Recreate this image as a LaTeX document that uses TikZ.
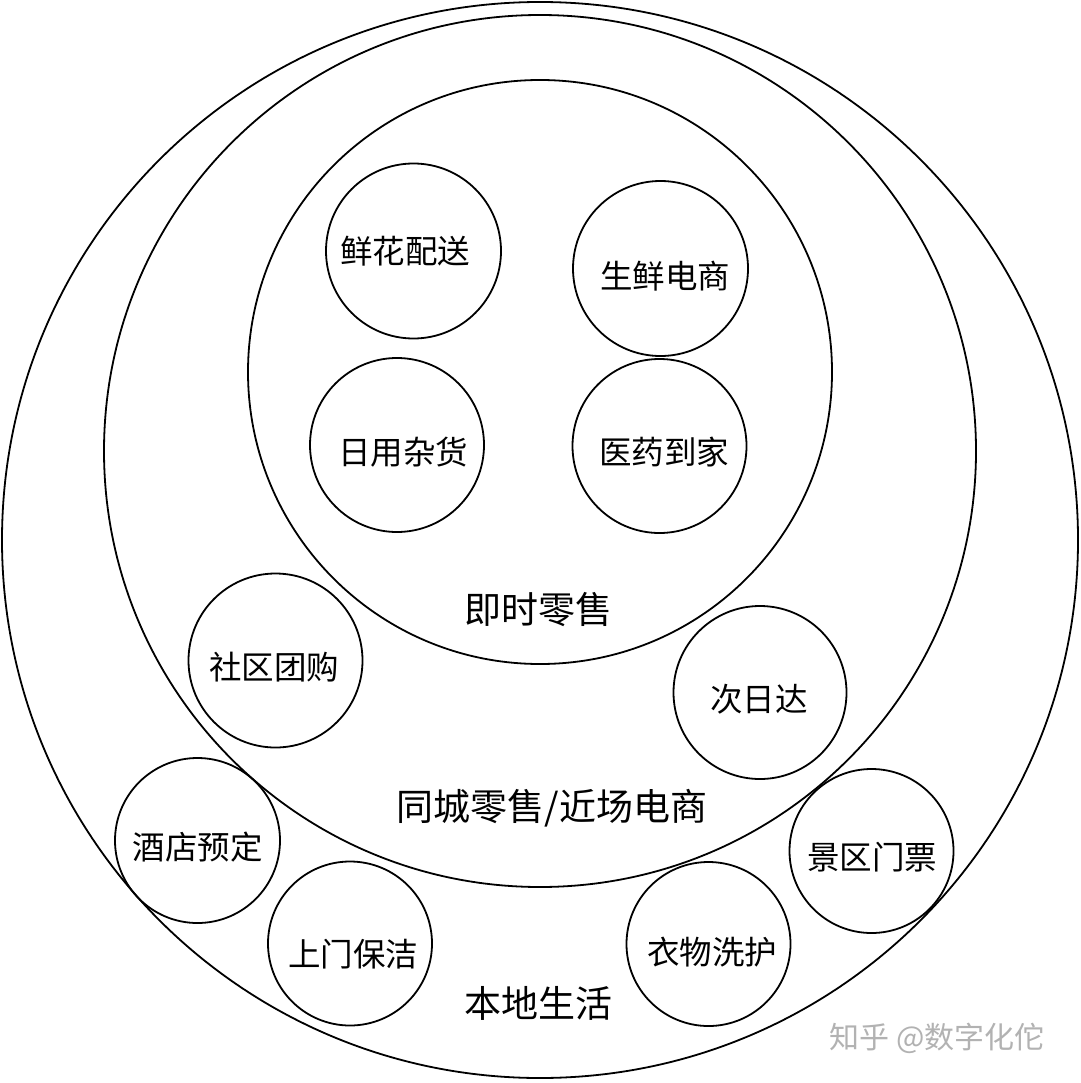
\documentclass[tikz,border=0pt]{standalone}
\usepackage{fontspec}
\setmainfont{Noto Sans CJK SC}
\definecolor{wm}{RGB}{178,178,178}
\tikzset{
  ring/.style={draw=black, line width=1.8pt, circle, inner sep=0pt, minimum size=#1},
  smalltxt/.style={font=\fontsize{32.5}{36}\selectfont, inner sep=0pt},
  bigtxt/.style={font=\fontsize{37}{42}\selectfont, inner sep=0pt},
}
\begin{document}
\begin{tikzpicture}[x=1pt,y=-1pt]
\useasboundingbox (0,0) rectangle (1080,1083);
\fill[white] (0,0) rectangle (1080,1083);
% big circles
\node[ring=1076pt] (life) at (540,540) {};
\node[ring=872pt] (city) at (540,451) {};
\node[ring=584pt] (instant) at (540,372) {};
% small circles
\node[ring=175pt] (flower) at (413.5,251) {};
\node[ring=175pt] (fresh) at (660.5,268.5) {};
\node[ring=174pt] (daily) at (397,445) {};
\node[ring=174pt] (medic) at (659.5,446) {};
\node[ring=174pt] (group) at (275.5,660.5) {};
\node[ring=173pt] (nextday) at (760,692.5) {};
\node[ring=165pt] (hotel) at (197.5,840.5) {};
\node[ring=164pt] (scenic) at (871.5,851) {};
\node[ring=164pt] (clean) at (350,943.5) {};
\node[ring=164pt] (laundry) at (708.5,944) {};
% labels
\node[smalltxt] (tflower) at (405,251) {鲜花配送};
\node[smalltxt] (tfresh) at (665,276) {生鲜电商};
\node[smalltxt] (tdaily) at (403,452) {日用杂货};
\node[smalltxt] (tmedic) at (664,452) {医药到家};
\node[smalltxt] (tgroup) at (274,667) {社区团购};
\node[smalltxt] (tnextday) at (759,699) {次日达};
\node[smalltxt] (thotel) at (197.5,847) {酒店预定};
\node[smalltxt] (tscenic) at (872,857) {景区门票};
\node[smalltxt] (tclean) at (353,954) {上门保洁};
\node[smalltxt] (tlaundry) at (712,952) {衣物洗护};
\node[bigtxt] (tinstant) at (538,610) {即时零售};
\node[bigtxt] (tcity) at (552,808) {同城零售/近场电商};
\node[bigtxt] (tlife) at (538,1003) {本地生活};
\node[font=\fontsize{30}{34}\selectfont, text=wm, inner sep=0pt] (wmark) at (937,1038) {知乎 @数字化佗};
\end{tikzpicture}
\end{document}
